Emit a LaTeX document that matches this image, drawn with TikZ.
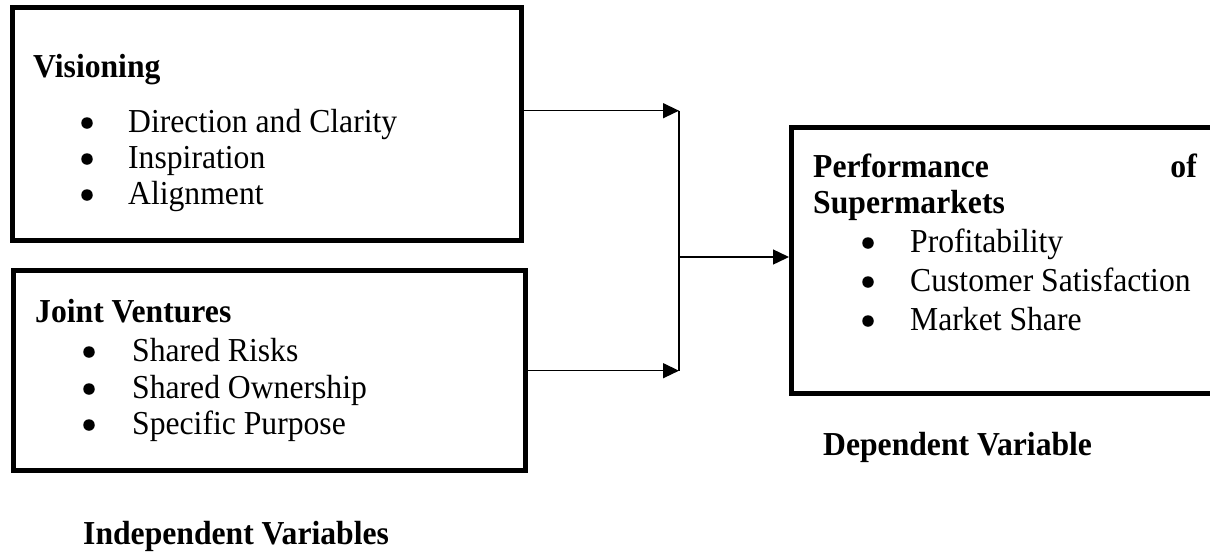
\documentclass[tikz,border=0pt]{standalone}
\usepackage{fontspec}
\setmainfont{Liberation Serif}[FakeStretch=0.945]
\usetikzlibrary{arrows.meta}
\tikzset{
  box/.style={draw, line width=5pt, inner sep=0pt},
  txt/.style={anchor=base west, inner sep=0pt, font=\fontsize{33.5}{40}\selectfont},
  hd/.style={anchor=base west, inner sep=0pt, font=\fontsize{33.5}{40}\selectfont\bfseries},
  bul/.style={circle, fill, inner sep=0pt, minimum size=11.5pt},
  conn/.style={line width=1.4pt},
  arr/.style={conn, -{Triangle[length=16pt,width=15pt]}}
}
\begin{document}
\begin{tikzpicture}[x=1pt,y=-1pt]
\clip (0,0) rectangle (1210,558);
\fill[white] (0,0) rectangle (1210,558);
% boxes
\node[box, minimum width=509pt, minimum height=233pt] (vis) at (267,124) {};
\node[box, minimum width=512pt, minimum height=200pt] (jv) at (269.5,370.5) {};
\node[box, minimum width=433.5pt, minimum height=266pt] (perf) at (1008.25,260.5) {};
% box 1 text
\node[hd] (visT) at (33,77) {Visioning};
\node[bul] (b11) at (87,123) {};
\node[txt] (t11) at (128,132) {Direction and Clarity};
\node[bul] (b12) at (87,159) {};
\node[txt] (t12) at (128,168) {Inspiration};
\node[bul] (b13) at (87,195) {};
\node[txt] (t13) at (128,204) {Alignment};
% box 2 text
\node[hd] (jvT) at (35,322) {Joint Ventures};
\node[bul] (b21) at (89,352) {};
\node[txt] (t21) at (132,361) {Shared Risks};
\node[bul] (b22) at (89,389) {};
\node[txt] (t22) at (132,398) {Shared Ownership};
\node[bul] (b23) at (89,425) {};
\node[txt] (t23) at (132,434) {Specific Purpose};
% box 3 text
\node[hd] (pT1) at (813,177) {Performance};
\node[hd, anchor=base east] (pT2) at (1197,177) {of};
\node[hd] (pT3) at (813,213) {Supermarkets};
\node[bul] (b31) at (868,243) {};
\node[txt] (t31) at (910,252) {Profitability};
\node[bul] (b32) at (868,282) {};
\node[txt] (t32) at (910,291) {Customer Satisfaction};
\node[bul] (b33) at (868,321) {};
\node[txt] (t33) at (910,330) {Market Share};
% labels
\node[hd] (dep) at (823,455) {Dependent Variable};
\node[hd] (indep) at (83,544) {Independent Variables};
% connectors
\coordinate (j1) at (679,110.7);
\coordinate (j2) at (679,370.7);
\coordinate (j3) at (679,257);
\draw[arr] (vis.east |- j1) -- (j1);
\draw[arr] (jv.east |- j2) -- (j2);
\draw[conn] (j1) -- (j2);
\draw[arr] (j3) -- (perf.west |- j3);
\end{tikzpicture}
\end{document}
